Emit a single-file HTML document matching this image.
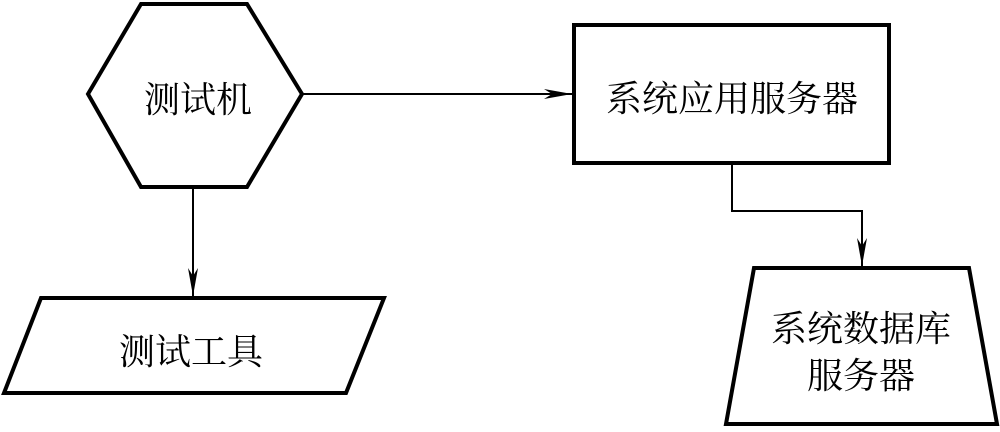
<!DOCTYPE html>
<html><head><meta charset="utf-8"><style>body{margin:0;background:#fff}</style></head>
<body>
<svg width="1000" height="427" viewBox="0 0 1000 427" xmlns="http://www.w3.org/2000/svg">
<defs>
<marker id="b" markerWidth="30" markerHeight="10" refX="28" refY="5" orient="auto" markerUnits="userSpaceOnUse" viewBox="0 0 30 10"><path d="M0,0 L28,5 L0,10 L8,5 Z" fill="#000"/></marker></defs>
<g fill="none" stroke="#000" stroke-width="4">
<polygon points="88,94 141,4 247,4 302,94 247,187 141,187"/>
<polygon points="41,298 384,298 346,393 4,393"/>
<rect x="574" y="25" width="315" height="138"/>
<polygon points="754,268 969,268 997,424 726,424"/>
</g>
<g fill="none" stroke="#000" stroke-width="2">
<line x1="302" y1="94" x2="572" y2="94" marker-end="url(#b)"/>
<line x1="193" y1="187" x2="193" y2="296" marker-end="url(#b)"/>
<polyline points="732,163 732,211 862,211 862,266" marker-end="url(#b)"/>
</g>
<g font-family="'Liberation Serif','Noto Serif CJK SC',serif" font-size="36" text-anchor="middle" fill="#000">
<text x="198" y="112">测试机</text>
<text x="732" y="111">系统应用服务器</text>
<text x="191" y="364">测试工具</text>
<text x="861" y="341">系统数据库</text>
<text x="861" y="388">服务器</text>
</g>
</svg>
</body></html>
